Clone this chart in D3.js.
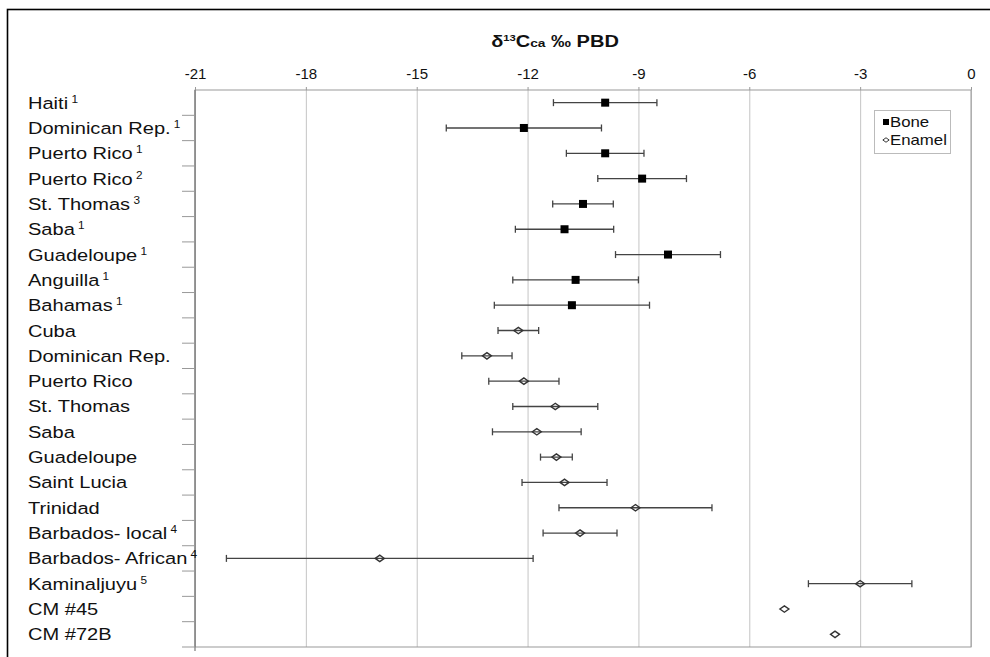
<!DOCTYPE html>
<html>
<head>
<meta charset="utf-8">
<script src="https://cdn.jsdelivr.net/npm/d3@7"></script>
<style>
  body { margin: 0; background: #fff; }
  text { font-family: "Liberation Sans", Arial, sans-serif; fill: #111; }
</style>
</head>
<body>
<div id="chart"></div>
<script>
// sites, top to bottom
var sites = ["Haiti", "Dominican Rep.", "Puerto Rico", "Puerto Rico", "St. Thomas", "Saba",
  "Guadeloupe", "Anguilla", "Bahamas", "Cuba", "Dominican Rep.", "Puerto Rico", "St. Thomas",
  "Saba", "Guadeloupe", "Saint Lucia", "Trinidad", "Barbados- local", "Barbados- African",
  "Kaminaljuyu", "CM #45", "CM #72B"];
// reference footnote for each site ("" = none)
var notes = ["1", "1", "1", "2", "3", "1", "1", "1", "1", "", "", "", "", "", "", "", "", "4", "4", "5", "", ""];

// bone means and 1 sd (null = no bone value)
var boneMean = [-9.9, -12.1, -9.9, -8.9, -10.5, -11.0, -8.2, -10.7, -10.8,
  null, null, null, null, null, null, null, null, null, null, null, null, null];
var boneSd = [1.4, 2.1, 1.05, 1.2, 0.82, 1.33, 1.42, 1.7, 2.1,
  null, null, null, null, null, null, null, null, null, null, null, null, null];

// enamel means and 1 sd
var enamelMean = [null, null, null, null, null, null, null, null, null,
  -12.25, -13.1, -12.1, -11.25, -11.75, -11.22, -11.0, -9.08, -10.58, -16.0, -3.0, -5.05, -3.68];
var enamelSd = [null, null, null, null, null, null, null, null, null,
  0.55, 0.68, 0.95, 1.15, 1.2, 0.43, 1.15, 2.07, 1.0, 4.15, 1.4, null, null];

var xTicks = [-21, -18, -15, -12, -9, -6, -3, 0];

var svgWidth = 990, svgHeight = 657;
var plot = { left: 195, right: 971, top: 90, bottom: 647 };

var svg = d3.select("#chart").append("svg")
  .attr("width", svgWidth)
  .attr("height", svgHeight);

// outer frame
svg.append("rect")
  .attr("x", 7.5).attr("y", 9.5)
  .attr("width", 1000).attr("height", 700)
  .attr("fill", "none").attr("stroke", "#000").attr("stroke-width", 1.6);

var xScale = d3.scaleLinear().domain([-21, 0]).range([plot.left, plot.right]);
var yScale = d3.scaleBand().domain(d3.range(sites.length)).range([plot.top, plot.bottom]);
var bw = yScale.bandwidth();

// gridlines
svg.append("g")
  .attr("transform", `translate(0, ${plot.top})`)
  .call(d3.axisTop(xScale).tickValues(xTicks).tickSize(-(plot.bottom - plot.top)).tickFormat(""))
  .call(g => g.select(".domain").remove())
  .call(g => g.selectAll("line").attr("stroke", "#c4c4c4"));

// plot border
svg.append("rect")
  .attr("x", plot.left).attr("y", plot.top)
  .attr("width", plot.right - plot.left).attr("height", plot.bottom - plot.top)
  .attr("fill", "none").attr("stroke", "#999");

// top axis labels (plain hyphen for the minus sign)
var xAxis = svg.append("g")
  .attr("transform", `translate(0, ${plot.top})`)
  .call(d3.axisTop(xScale).tickValues(xTicks).tickSize(3).tickPadding(8).tickFormat(d => String(d)));
xAxis.select(".domain").remove();
xAxis.selectAll("line").attr("stroke", "#999");
xAxis.selectAll("text")
  .attr("font-size", "15px")
  .attr("font-family", "'Liberation Sans', Arial, sans-serif")
  .attr("fill", "#111");

// left axis line and category boundary ticks
svg.append("line")
  .attr("x1", plot.left).attr("x2", plot.left)
  .attr("y1", plot.top).attr("y2", plot.bottom + 4)
  .attr("stroke", "#777").attr("stroke-width", 1.2);

svg.selectAll(".catTick")
  .data(d3.range(1, sites.length + 1))
  .enter()
  .append("line")
  .attr("x1", plot.left - 13).attr("x2", plot.left)
  .attr("y1", i => i < sites.length ? yScale(i) : plot.bottom)
  .attr("y2", i => i < sites.length ? yScale(i) : plot.bottom)
  .attr("stroke", "#999");

// category labels
var labels = svg.selectAll(".siteLabel")
  .data(sites)
  .enter()
  .append("text")
  .attr("transform", (d, i) => `translate(28, ${yScale(i) + bw / 2 + 6}) scale(1.18, 1)`)
  .attr("font-size", "17px");
labels.append("tspan").text(d => d);
labels.append("tspan")
  .attr("font-size", "10px")
  .attr("dy", -6)
  .text((d, i) => notes[i] ? " " + notes[i] : "");

// title
var title = svg.append("text")
  .attr("transform", "translate(555, 47) scale(1.25, 1)")
  .attr("text-anchor", "middle")
  .attr("font-weight", "bold")
  .attr("font-size", "16px");
title.append("tspan").text("δ");
title.append("tspan").attr("font-size", "9px").attr("dy", -6).text("13");
title.append("tspan").attr("dy", 6).text("C");
title.append("tspan").attr("font-size", "11px").text("ca");
title.append("tspan").text(" ‰ PBD");

// error bars
function drawBars(means, sds, cls) {
  var rows = d3.range(sites.length).filter(i => means[i] != null && sds[i] != null);
  var g = svg.append("g").attr("class", cls)
    .attr("stroke", "#444").attr("stroke-width", 1.3);
  rows.forEach(function(i) {
    var cy = yScale(i) + bw / 2;
    var lo = xScale(means[i] - sds[i]), hi = xScale(means[i] + sds[i]);
    g.append("line").attr("x1", lo).attr("x2", hi).attr("y1", cy).attr("y2", cy);
    g.append("line").attr("x1", lo).attr("x2", lo).attr("y1", cy - 3.5).attr("y2", cy + 3.5);
    g.append("line").attr("x1", hi).attr("x2", hi).attr("y1", cy - 3.5).attr("y2", cy + 3.5);
  });
}
drawBars(boneMean, boneSd, "boneBars");
drawBars(enamelMean, enamelSd, "enamelBars");

var diamond = "M-4.5,0L0,-3.2L4.5,0L0,3.2Z";

// bone points
svg.selectAll(".bone")
  .data(d3.range(sites.length).filter(i => boneMean[i] != null))
  .enter()
  .append("rect")
  .attr("x", i => xScale(boneMean[i]) - 4)
  .attr("y", i => yScale(i) + bw / 2 - 4)
  .attr("width", 8).attr("height", 8)
  .attr("fill", "#000");

// enamel points
svg.selectAll(".enamel")
  .data(d3.range(sites.length).filter(i => enamelMean[i] != null))
  .enter()
  .append("path")
  .attr("d", diamond)
  .attr("transform", i => `translate(${xScale(enamelMean[i])}, ${yScale(i) + bw / 2})`)
  .attr("fill", "none")
  .attr("stroke", "#333")
  .attr("stroke-width", 1.4);

// legend
var legend = svg.append("g");
legend.append("rect")
  .attr("x", 874.5).attr("y", 110.5)
  .attr("width", 76).attr("height", 43)
  .attr("fill", "#fff").attr("stroke", "#bbb");
legend.append("rect")
  .attr("x", 883).attr("y", 119).attr("width", 6).attr("height", 6)
  .attr("fill", "#000");
legend.append("path")
  .attr("d", diamond)
  .attr("transform", "translate(886, 140) scale(0.7)")
  .attr("fill", "none").attr("stroke", "#333").attr("stroke-width", 1.4);
legend.append("text")
  .attr("transform", "translate(890, 127) scale(1.2, 1)")
  .attr("font-size", "14px").text("Bone");
legend.append("text")
  .attr("transform", "translate(890, 145) scale(1.2, 1)")
  .attr("font-size", "14px").text("Enamel");
</script>
</body>
</html>
